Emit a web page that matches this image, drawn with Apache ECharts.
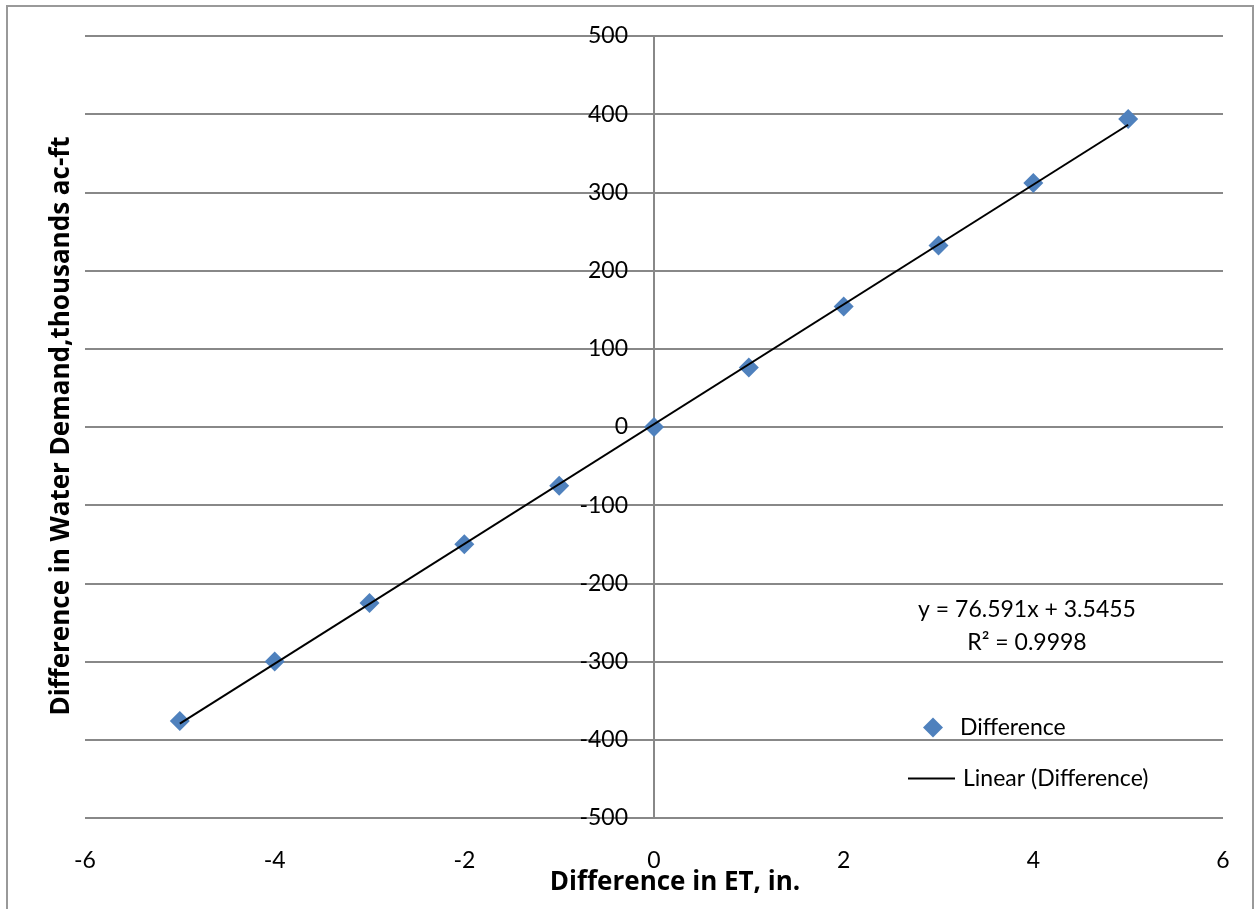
<!DOCTYPE html>
<html>
<head>
<meta charset="utf-8">
<script src="https://cdn.jsdelivr.net/npm/echarts@6/dist/echarts.min.js"></script>
<style>
  html, body { margin: 0; padding: 0; background: #fff; }
  #chart { width: 1255px; height: 909px; }
</style>
</head>
<body>
<div id="chart"></div>
<script>
// Change in ET (in.) vs. change in water demand (thousands ac-ft)
const etDiff = [-5, -4, -3, -2, -1, 0, 1, 2, 3, 4, 5];
const demandDiff = [-376, -300, -225, -150, -75, 0, 76, 154, 232, 312, 394];

// Linear trendline coefficients, as given in the equation label
const slope = 76.591;
const intercept = 3.5455;
const rSquared = 0.9998;

const xTicks = { min: -6, max: 6, interval: 2 };
const yTicks = { min: -500, max: 500, interval: 100 };

const FONT = 'Lato, "Noto Sans", sans-serif';
const TITLE_FONT = '"Open Sans", Lato, sans-serif';

const GRID = { left: 85, right: 32, top: 36, bottom: 91 };
const PLOT_W = 1255 - GRID.left - GRID.right;

const scatterData = etDiff.map((x, i) => [x, demandDiff[i]]);
const xStart = etDiff[0], xEnd = etDiff[etDiff.length - 1];
const trendData = [
  [xStart, slope * xStart + intercept],
  [xEnd, slope * xEnd + intercept]
];

// The vertical axis sits at x = 0; shift it there from the left edge of the plot
const yAxisOffset = -PLOT_W * (0 - xTicks.min) / (xTicks.max - xTicks.min);

const chart = echarts.init(document.getElementById('chart'), null, { renderer: 'canvas' });

chart.setOption({
  animation: false,
  backgroundColor: '#fff',
  grid: GRID,
  xAxis: {
    type: 'value',
    min: xTicks.min, max: xTicks.max, interval: xTicks.interval,
    axisLine: { onZero: false, show: false },
    axisTick: { show: false },
    splitLine: { show: false },
    axisLabel: { color: '#000', fontFamily: FONT, fontSize: 23, margin: 31 }
  },
  yAxis: {
    type: 'value',
    position: 'left',
    offset: yAxisOffset,
    min: yTicks.min, max: yTicks.max, interval: yTicks.interval,
    axisLine: { show: true, onZero: false, lineStyle: { color: '#888', width: 2 } },
    axisTick: { show: false },
    splitLine: { show: true, lineStyle: { color: '#888', width: 2 } },
    axisLabel: { color: '#000', fontFamily: FONT, fontSize: 23, margin: 26 }
  },
  legend: [
    {
      data: [{ name: 'Difference', icon: 'diamond' }],
      left: 918, top: 711,
      itemWidth: 20, itemHeight: 20,
      textStyle: { color: '#000', fontFamily: FONT, fontSize: 23, padding: [0, 0, 0, 12] }
    },
    {
      data: [{ name: 'Linear (Difference)', icon: 'path://M0,0 L47,0 L47,2 L0,2 Z' }],
      left: 903, top: 762,
      itemWidth: 47, itemHeight: 2,
      itemStyle: { color: '#000' },
      textStyle: { color: '#000', fontFamily: FONT, fontSize: 23, padding: [0, 0, 0, 3] }
    }
  ],
  series: [
    {
      name: 'Linear (Difference)',
      type: 'line',
      data: trendData,
      showSymbol: false,
      symbol: 'none',
      lineStyle: { color: '#000', width: 2 },
      itemStyle: { color: '#000' },
      z: 3
    },
    {
      name: 'Difference',
      type: 'scatter',
      data: scatterData,
      symbol: 'diamond',
      symbolSize: 20,
      itemStyle: { color: '#4F81BD', opacity: 1 },
      z: 2
    }
  ],
  graphic: [
    {
      type: 'rect',
      shape: { x: 7, y: 6, width: 1246, height: 920 },
      style: { fill: 'none', stroke: '#999', lineWidth: 2 },
      silent: true
    },
    {
      type: 'text',
      x: 62, y: 426,
      rotation: Math.PI / 2,
      style: {
        text: 'Difference in Water Demand,thousands ac-ft',
        font: 'bold 26px ' + TITLE_FONT,
        fill: '#000',
        textAlign: 'center', textVerticalAlign: 'middle'
      }
    },
    {
      type: 'text',
      x: 675, y: 883,
      style: {
        text: 'Difference in ET, in.',
        font: 'bold 26px ' + TITLE_FONT,
        fill: '#000',
        textAlign: 'center', textVerticalAlign: 'middle'
      }
    },
    {
      type: 'text',
      x: 1027, y: 610,
      style: {
        text: 'y = ' + slope + 'x + ' + intercept,
        font: '23px ' + FONT,
        fill: '#000',
        textAlign: 'center', textVerticalAlign: 'middle'
      }
    },
    {
      type: 'text',
      x: 1027, y: 643,
      style: {
        text: 'R\u00B2 = ' + rSquared,
        font: '23px ' + FONT,
        fill: '#000',
        textAlign: 'center', textVerticalAlign: 'middle'
      }
    }
  ]
});
</script>
</body>
</html>
